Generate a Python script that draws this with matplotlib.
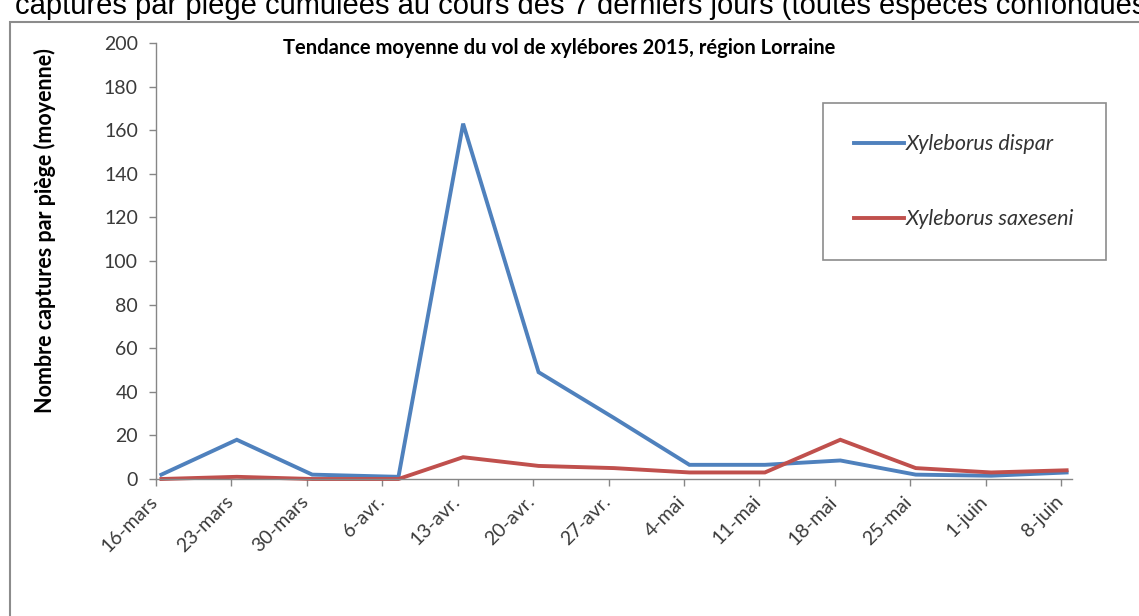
import numpy as np
import matplotlib
matplotlib.use("Agg")
import matplotlib.pyplot as plt
from matplotlib.patches import Rectangle
from matplotlib.transforms import ScaledTranslation

## weekly trap counts (mean per trap), 2015
sample_dates = ["2015-03-16", "2015-03-23", "2015-03-30", "2015-04-07", "2015-04-13",
                "2015-04-20", "2015-04-27", "2015-05-04", "2015-05-11", "2015-05-18",
                "2015-05-25", "2015-06-01", "2015-06-08"]
tick_labels = ["16-mars", "23-mars", "30-mars", "6-avr.", "13-avr.", "20-avr.", "27-avr.",
               "4-mai", "11-mai", "18-mai", "25-mai", "1-juin", "8-juin"]
dispar = [2, 18, 2, 1, 163, 49, 28, 6.5, 6.5, 8.5, 2, 1.5, 3]
saxeseni = [0, 1, 0, 0, 10, 6, 5, 3, 3, 18, 5, 3, 4]
series_names = ["Xyleborus dispar", "Xyleborus saxeseni"]

W, H = 1139, 616
start = np.datetime64("2015-03-16")
x = (np.array(sample_dates, dtype="datetime64[D]") - start).astype(float) + 0.5   ## excel date axis: mid-day
ticks = np.arange(0, 85, 7)

fig = plt.figure(figsize=(W/100, H/100), dpi=100)
ax = fig.add_axes([156/W, 1-479/H, (1072-156)/W, (479-43)/H])

## chart frame (runs off the canvas on right and bottom)
fig.patches.append(Rectangle((10/W, -0.2), 2, 1.2 - 22/H, transform=fig.transFigure,
                             fill=False, edgecolor="#8c8c8c", lw=1.5))

## heading above the chart, cut by the top edge as in the source screenshot
fig.text(15/W, 1-14/H, "captures par piège cumulées au cours des 7 derniers jours (toutes espèces confondues",
         fontsize=21, family="Liberation Sans", va="baseline", ha="left", color="black")

ax.plot(x, dispar, color="#4F81BD", lw=2.8, label=series_names[0], clip_on=False, solid_joinstyle="miter")
ax.plot(x, saxeseni, color="#C0504D", lw=2.8, label=series_names[1], clip_on=False, solid_joinstyle="miter")

ax.set_xlim(0, 85)
ax.set_ylim(0, 200)
ax.set_yticks(np.arange(0, 201, 20))
ax.set_xticks(ticks)
ax.set_xticklabels(tick_labels, rotation=45, ha="right", va="top", rotation_mode="anchor")

for s in ["top", "right"]:
    ax.spines[s].set_visible(False)
for s in ["left", "bottom"]:
    ax.spines[s].set_color("#868686")
    ax.spines[s].set_linewidth(1.0)
ax.tick_params(axis="both", colors="#868686", direction="out", length=5, width=1.0,
               labelcolor="#3a3a3a", labelsize=14)
ax.tick_params(axis="x", pad=5)
ax.tick_params(axis="y", pad=8)
shift = ScaledTranslation(-7/100, 0, fig.dpi_scale_trans)
for lab in ax.get_xticklabels():
    lab.set_transform(lab.get_transform() + shift)
for lab in ax.get_xticklabels() + ax.get_yticklabels():
    lab.set_family("Lato")

fig.text(45/W, 1-231/H, "Nombre captures par piège (moyenne)", rotation=90, fontsize=15.5,
         fontweight="bold", family="Lato", ha="center", va="center")
fig.text(559/W, 1-48/H, "Tendance moyenne du vol de xylébores 2015, région Lorraine", fontsize=14.5,
         fontweight="bold", family="Lato", ha="center", va="center")

leg = ax.legend(loc="upper left", bbox_to_anchor=(823/W, 1-103/H), bbox_transform=fig.transFigure,
                borderaxespad=0, fancybox=False, edgecolor="#8c8c8c", framealpha=1,
                prop={"family": "Lato", "style": "italic", "size": 15.5},
                handlelength=2.3, handletextpad=0.1, labelspacing=2.55, borderpad=1.45)
leg.get_frame().set_linewidth(1.2)
for t in leg.get_texts():
    t.set_color("#333333")

fig.savefig("out.png", dpi=100)
